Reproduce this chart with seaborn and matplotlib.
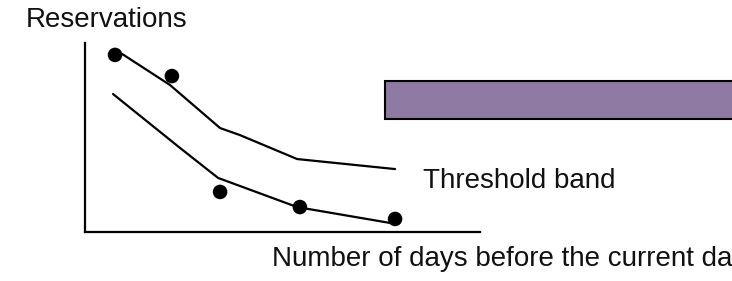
import matplotlib
matplotlib.use("Agg")
import matplotlib.pyplot as plt
from matplotlib.patches import Rectangle
import seaborn as sns
import pandas as pd

# threshold band (x: days axis 0-100, y: reservations 0-100)
upper_x = [9.4, 21.5, 34.2, 39.2, 53.7, 78.5]
upper_y = [94.2, 77.8, 55.0, 51.3, 38.6, 33.3]
lower_x = [7.1, 24.1, 33.7, 53.7, 77.2]
lower_y = [73.0, 44.4, 28.6, 13.2, 4.8]

# observed reservations
obs_x = [7.6, 22.0, 34.2, 54.4, 78.5]
obs_y = [93.7, 82.5, 21.2, 13.2, 6.9]

band_label = "Threshold band"
x_label = "Number of days before the current date"
y_label = "Reservations"

sns.set_style("white")
plt.rcParams["font.family"] = ["Liberation Sans", "DejaVu Sans"]

fig = plt.figure(figsize=(7.32, 2.81), dpi=100)
ax = fig.add_axes([85 / 732, 1 - 232 / 281, 395 / 732, 189 / 281])

upper = pd.DataFrame({"x": upper_x, "y": upper_y})
lower = pd.DataFrame({"x": lower_x, "y": lower_y})
obs = pd.DataFrame({"x": obs_x, "y": obs_y})

sns.lineplot(data=upper, x="x", y="y", sort=False, color="black", lw=1.6, ax=ax)
sns.lineplot(data=lower, x="x", y="y", sort=False, color="black", lw=1.6, ax=ax)
sns.scatterplot(data=obs, x="x", y="y", color="black", s=110, edgecolor="none", ax=ax)

ax.set_xlim(0, 100)
ax.set_ylim(0, 100)
ax.set_xticks([])
ax.set_yticks([])
ax.set_xlabel("")
ax.set_ylabel("")
for side in ["top", "right"]:
    ax.spines[side].set_visible(False)
for side in ["left", "bottom"]:
    ax.spines[side].set_color("black")
    ax.spines[side].set_linewidth(1.6)

ax.text(85.6, 23.3, band_label, fontsize=20, va="baseline", ha="left", color="#111111")

# purple box sticking out past the right edge
ax.add_patch(Rectangle((75.9, 59.8), 100, 20.1, facecolor="#8f7aa3",
                       edgecolor="black", lw=1.5, clip_on=False))

fig.text(26 / 732, 1 - 27 / 281, y_label, fontsize=20, va="baseline", ha="left", color="#111111")
fig.text(272 / 732, 1 - 266 / 281, x_label, fontsize=20, va="baseline", ha="left", color="#111111")

fig.savefig("out.png", dpi=100)
